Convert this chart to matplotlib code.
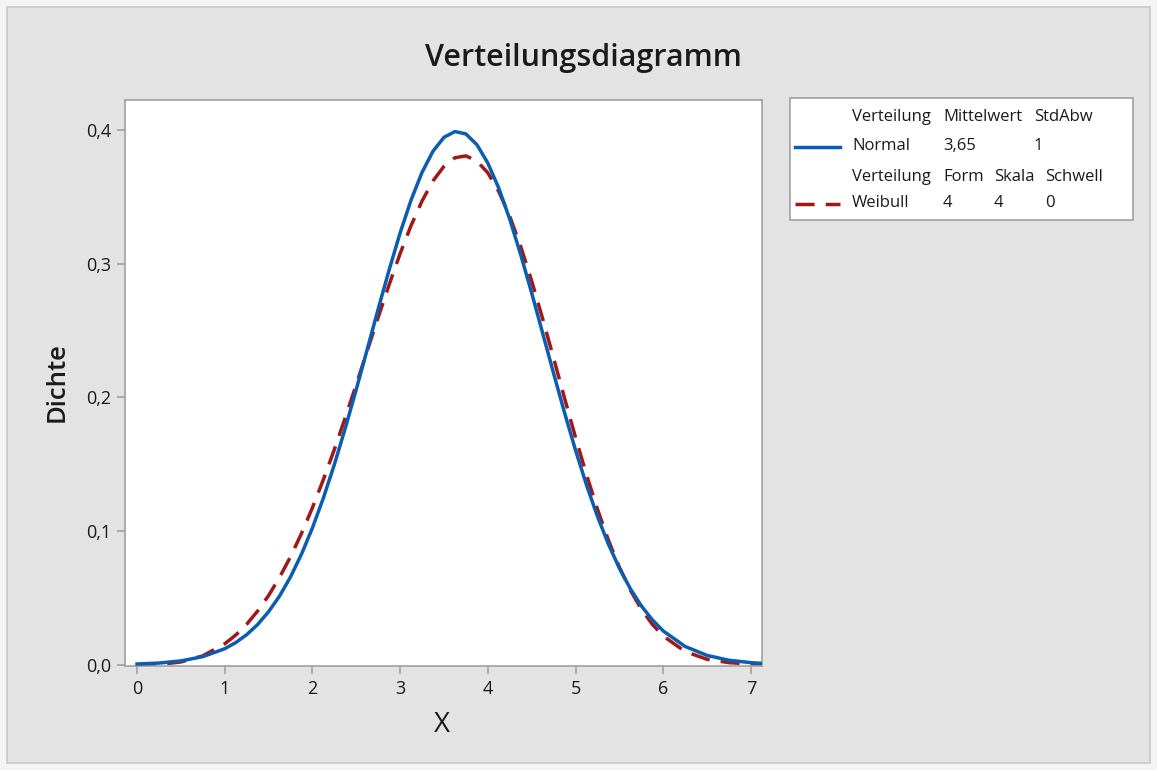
import matplotlib.pyplot as plt
from matplotlib.lines import Line2D
from matplotlib.patches import Rectangle

# values (density curves)
x_vals = [0.0, 0.25, 0.5, 0.75, 1.0, 1.125, 1.25, 1.375, 1.5, 1.625, 1.75, 1.875,
          2.0, 2.125, 2.25, 2.375, 2.5, 2.625, 2.75, 2.875, 3.0, 3.125, 3.25,
          3.375, 3.5, 3.625, 3.75, 3.875, 4.0, 4.125, 4.25, 4.375, 4.5, 4.625,
          4.75, 4.875, 5.0, 5.125, 5.25, 5.375, 5.5, 5.625, 5.75, 5.875, 6.0,
          6.25, 6.5, 6.75, 7.0, 7.12]
normal_y = [0.0005, 0.0012, 0.0028, 0.0060, 0.0119, 0.0165, 0.0224, 0.0300,
            0.0396, 0.0513, 0.0656, 0.0826, 0.1023, 0.1247, 0.1497, 0.1770,
            0.2059, 0.2359, 0.2661, 0.2954, 0.3230, 0.3476, 0.3683, 0.3841,
            0.3945, 0.3988, 0.3970, 0.3890, 0.3752, 0.3564, 0.3332, 0.3067,
            0.2780, 0.2480, 0.2179, 0.1884, 0.1604, 0.1344, 0.1109, 0.0901,
            0.0721, 0.0568, 0.0440, 0.0336, 0.0252, 0.0136, 0.0069, 0.0033,
            0.0015, 0.0010]
weibull_y = [0.0, 0.0002, 0.0020, 0.0066, 0.0156, 0.0221, 0.0302, 0.0401,
             0.0517, 0.0653, 0.0807, 0.0981, 0.1174, 0.1385, 0.1610, 0.1849,
             0.2096, 0.2348, 0.2599, 0.2843, 0.3075, 0.3285, 0.3469, 0.3619,
             0.3728, 0.3792, 0.3806, 0.3768, 0.3679, 0.3539, 0.3354, 0.3128,
             0.2870, 0.2588, 0.2293, 0.1993, 0.1700, 0.1421, 0.1163, 0.0931,
             0.0729, 0.0557, 0.0415, 0.0302, 0.0214, 0.0098, 0.0040, 0.0015,
             0.0005, 0.0003]

x_ticks = [0, 1, 2, 3, 4, 5, 6, 7]
y_ticks = [0.0, 0.1, 0.2, 0.3, 0.4]
y_tick_labels = ['0,0', '0,1', '0,2', '0,3', '0,4']

blue = '#0a5db0'
red = '#a01818'
font = 'Open Sans'

W, H = 1157, 770
fig = plt.figure(figsize=(W / 100, H / 100), dpi=100)
fig.patch.set_facecolor('#f4f4f4')
fig.patches.append(Rectangle((7 / W, 7 / H), 1 - 14 / W, 1 - 14 / H,
                             transform=fig.transFigure, facecolor='#e3e3e3',
                             edgecolor='#c8c8c8', linewidth=1.2, zorder=-5))

ax = fig.add_axes([125 / W, 1 - 666 / H, (762 - 125) / W, (666 - 100) / H])
ax.plot(x_vals, normal_y, color=blue, linewidth=2.5, zorder=3)
ax.plot(x_vals, weibull_y, color=red, linewidth=2.5, dashes=(5.5, 3.2), zorder=2)

ax.set_xlim(-0.137, 7.126)
ax.set_ylim(-0.001, 0.4224)
ax.set_xticks(x_ticks)
ax.set_xticklabels([str(t) for t in x_ticks], fontsize=13, family=font)
ax.set_yticks(y_ticks)
ax.set_yticklabels(y_tick_labels, fontsize=13, family=font)
for s in ax.spines.values():
    s.set_color('#a0a0a0')
    s.set_linewidth(1.2)
ax.tick_params(direction='out', length=6, width=1.2, color='#a0a0a0',
               labelcolor='#1a1a1a', pad=4)

fig.text(583 / W, 1 - 58 / H, 'Verteilungsdiagramm', ha='center', va='center',
         fontsize=22, fontweight='semibold', family=font, color='#1a1a1a')
fig.text(57 / W, 1 - 382 / H, 'Dichte', ha='center', va='center', rotation=90,
         fontsize=18.5, fontweight='semibold', family=font, color='#1a1a1a')
fig.text(442 / W, 1 - 725 / H, 'X', ha='center', va='center',
         fontsize=20, family=font, color='#1a1a1a')

# legend box
fig.patches.append(Rectangle((790 / W, 1 - 220 / H), (1133 - 790) / W, (220 - 98) / H,
                             transform=fig.transFigure, facecolor='white',
                             edgecolor='#a0a0a0', linewidth=1.2))
fig.lines.append(Line2D([795 / W, 840 / W], [1 - 147 / H, 1 - 147 / H],
                        transform=fig.transFigure, color=blue, linewidth=2.5))
fig.lines.append(Line2D([795 / W, 840 / W], [1 - 204 / H, 1 - 204 / H],
                        transform=fig.transFigure, color=red, linewidth=2.5,
                        dashes=(5.5, 3.2)))

legend_rows = [
    (117, [(852, 'Verteilung'), (943, 'Mittelwert'), (1034, 'StdAbw')]),
    (146, [(852, 'Normal'), (943, '3,65'), (1034, '1')]),
    (177, [(852, 'Verteilung'), (943, 'Form'), (994, 'Skala'), (1045, 'Schwell')]),
    (203, [(852, 'Weibull'), (943, '4'), (994, '4'), (1045, '0')]),
]
for ypix, cells in legend_rows:
    for xpix, txt in cells:
        fig.text(xpix / W, 1 - ypix / H, txt, ha='left', va='center',
                 fontsize=12, family=font, color='#1a1a1a')

plt.savefig('out.png', dpi=100)
